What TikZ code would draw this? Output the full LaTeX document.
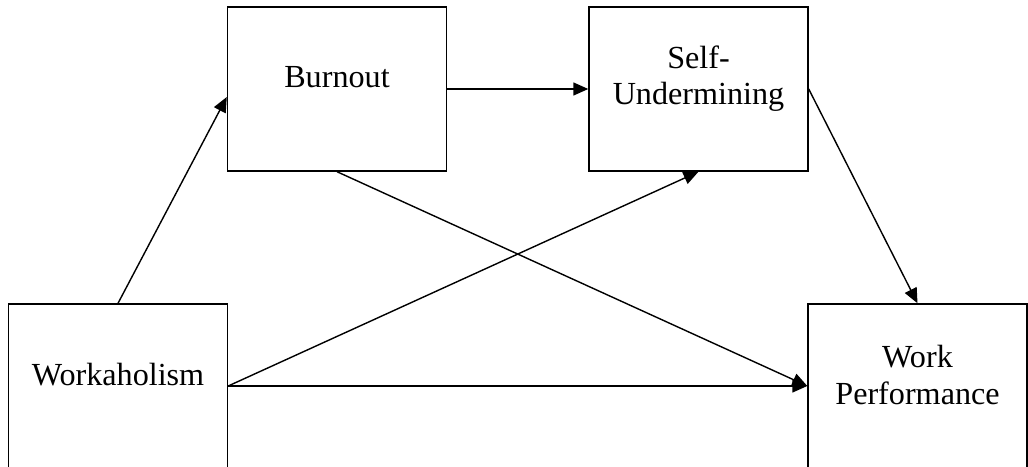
\documentclass[tikz,border=0pt]{standalone}
\usepackage{fontspec}
\setmainfont{Liberation Serif}
\usetikzlibrary{arrows.meta, positioning}
\tikzset{
  factor/.style     = {rectangle, draw=black, line width=0.8pt,
                       minimum width=4.38cm, minimum height=3.28cm,
                       inner sep=0pt},
  factortext/.style = {align=center, inner sep=0pt,
                       font=\fontsize{18.3}{20.5}\selectfont},
  effect/.style     = {-{Triangle[length=0.3cm, width=0.26cm]},
                       line width=0.8pt, draw=black},
}

\begin{document}
\begin{tikzpicture}
  \useasboundingbox (0,0) rectangle (20.56,9.32);

  % boxes
  \node[factor] (burnout) at (6.74, 7.54)  {};
  \node[factor] (selfund) at (13.97, 7.54) {};
  \node[factor] (work)    at (2.36, 1.6)   {};
  \node[factor] (perf)    at (18.35, 1.6)  {};

  % labels, set a little above the middle of each box
  \node[factortext] (burnout-t) at ([yshift=0.24cm]burnout.center) {Burnout};
  \node[factortext] (selfund-t) at ([yshift=0.2cm]selfund.center)  {Self-\\Undermining};
  \node[factortext] (work-t)    at ([yshift=0.22cm]work.center)    {Workaholism};
  \node[factortext] (perf-t)    at ([yshift=0.22cm]perf.center)    {Work\\Performance};

  % paths
  \draw[effect] (work.north) -- ([yshift=-0.16cm]burnout.west);
  \draw[effect] (burnout.east) -- (selfund.west);
  \draw[effect] (burnout.south) -- (perf.west);
  \draw[effect] (work.east) -- (selfund.south);
  \draw[effect] (work.east) -- (perf.west);
  \draw[effect] (selfund.east) -- (perf.north);
\end{tikzpicture}
\end{document}
